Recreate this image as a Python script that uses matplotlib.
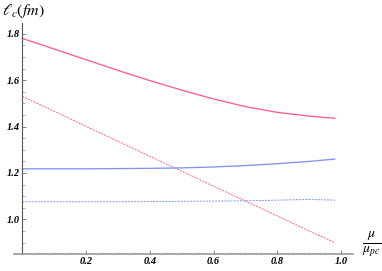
import matplotlib
matplotlib.use("Agg")
import matplotlib.pyplot as plt
from matplotlib.ticker import MultipleLocator, FixedLocator

# data
mu_x = [0.0, 0.1, 0.2, 0.3, 0.4, 0.5, 0.6, 0.7, 0.8, 0.9, 0.98]
red_solid = [1.780, 1.734, 1.688, 1.642, 1.598, 1.557, 1.519, 1.486, 1.461, 1.445, 1.436]
red_dashed = [1.530, 1.466, 1.401, 1.337, 1.272, 1.208, 1.143, 1.079, 1.015, 0.950, 0.900]
blue_solid = [1.218, 1.218, 1.218, 1.219, 1.220, 1.222, 1.226, 1.232, 1.240, 1.250, 1.260]
blue_dashed = [1.076, 1.076, 1.076, 1.076, 1.077, 1.078, 1.079, 1.080, 1.083, 1.086, 1.083]

x_ticks = [0.2, 0.4, 0.6, 0.8, 1.0]
x_ticklabels = ["0.2", "0.4", "0.6", "0.8", "1.0"]
y_ticks = [1.0, 1.2, 1.4, 1.6, 1.8]
y_ticklabels = ["1.0", "1.2", "1.4", "1.6", "1.8"]

RED = "#FF5F87"
BLUE = "#8093F2"

plt.rcParams['mathtext.fontset'] = 'stix'

fig = plt.figure(figsize=(3.82, 2.71), dpi=100)
ax = fig.add_axes([0.0366, 0.0627, 0.8874, 0.8514])

ax.plot(mu_x, red_solid, color=RED, lw=0.95)
ax.plot(mu_x, red_dashed, color=RED, lw=0.7, linestyle=(0, (2, 1.2)))
ax.plot(mu_x, blue_solid, color=BLUE, lw=0.95)
ax.plot(mu_x, blue_dashed, color=BLUE, lw=0.7, linestyle=(0, (2, 1.2)))

ax.set_xlim(-0.026, 1.037)
ax.set_ylim(0.851, 1.845)

ax.spines['top'].set_visible(False)
ax.spines['right'].set_visible(False)
ax.spines['left'].set_position(('data', 0))
ax.spines['left'].set_color('#555555')
ax.spines['left'].set_linewidth(0.8)
ax.spines['bottom'].set_color('#999999')
ax.spines['bottom'].set_linewidth(1.2)

ax.xaxis.set_major_locator(FixedLocator(x_ticks))
ax.set_xticklabels(x_ticklabels)
ax.yaxis.set_major_locator(FixedLocator(y_ticks))
ax.set_yticklabels(y_ticklabels)
ax.xaxis.set_minor_locator(MultipleLocator(0.05))
ax.yaxis.set_minor_locator(MultipleLocator(0.05))

ax.tick_params(axis='both', which='major', direction='in', length=3, width=0.6,
               color='#777777', pad=2)
ax.tick_params(axis='both', which='minor', direction='in', length=1.8, width=0.5,
               color='#999999')
for lab in ax.get_xticklabels() + ax.get_yticklabels():
    lab.set_fontfamily('Liberation Serif')
    lab.set_fontweight('bold')
    lab.set_fontstyle('italic')
    lab.set_fontsize(7.5)

fig.text(0.006, 0.958, r'$\ell_c(fm)$', fontsize=11.5, ha='left', va='center')
fig.text(0.974, 0.098, r'$\frac{\mu}{\mu_{pc}}$', fontsize=14, ha='center', va='center')

fig.savefig("out.png", dpi=100)
